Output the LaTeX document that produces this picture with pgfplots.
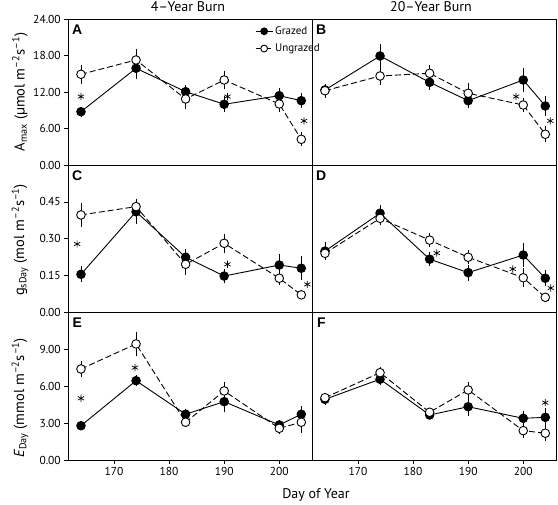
\documentclass[border=0pt]{standalone}
\usepackage{fontspec}
\setmainfont{PT Sans}
\newfontfamily\lettfont{Liberation Sans}
\usepackage{pgfplots}
\pgfplotsset{compat=1.18}
\pgfplotsset{
 panel/.style={scale only axis, width=244pt, xmin=161.7, xmax=206, ymin=0,
   tick align=outside, major tick length=4pt, xtick pos=bottom, ytick pos=left,
   axis line style={line width=0.9pt}, tick style={line width=0.8pt, black},
   tick label style={font=\fontsize{11.5}{11.5}\selectfont},
   /pgf/number format/assume math mode=true,
   yticklabel style={/pgf/number format/.cd, fixed, fixed zerofill, precision=2},
   clip=false},
 gr/.style={black, line width=0.9pt, solid, mark=*, mark size=4.3pt, mark options={solid, fill=black},
   /pgfplots/error bars/y dir=both, /pgfplots/error bars/y explicit,
   /pgfplots/error bars/error bar style={line width=0.8pt, solid},
   /pgfplots/error bars/error mark options={line width=0.8pt, mark size=2pt, solid}},
 ug/.style={black, line width=0.9pt, dash pattern=on 6pt off 3pt, mark=*, mark size=4.3pt, mark options={solid, fill=white},
   /pgfplots/error bars/y dir=both, /pgfplots/error bars/y explicit,
   /pgfplots/error bars/error bar style={line width=0.8pt, solid},
   /pgfplots/error bars/error mark options={line width=0.8pt, mark size=2pt, solid}},
 ast/.style={only marks, mark=asterisk, mark size=3.6pt, black, line width=0.7pt, forget plot},
}
\newcommand{\plet}[1]{\node[font=\lettfont\bfseries\fontsize{14}{14}\selectfont, xshift=9pt, yshift=-10.5pt] at (rel axis cs:0,1) {#1};}
\begin{document}
\begin{tikzpicture}[x=1pt,y=1pt]
\useasboundingbox (0,0) rectangle (558,505);
% A
\begin{axis}[panel, at={(68.3pt,339.7pt)}, anchor=south west, height=146pt, ymax=24,
  ytick={0,6,12,18,24}, xtick=\empty,
  legend style={draw=none, fill=none, at={(rel axis cs:0.765,0.965)}, anchor=north west,
    font=\fontsize{11}{11}\selectfont, row sep=4pt, inner sep=0pt},
  legend cell align=left, legend image post style={mark size=3.4pt}]
\addplot[gr] coordinates {(164,8.81)+-(0,0.5) (174,15.95)+-(0,1.5) (183,12.10)+-(0,0.8) (190,10.03)+-(0,1.0) (200,11.44)+-(0,0.9) (204,10.62)+-(0,0.9)};
\addlegendentry{Grazed}
\addplot[ug] coordinates {(164,14.96)+-(0,1.2) (174,17.31)+-(0,1.5) (183,10.90)+-(0,1.3) (190,14.02)+-(0,1.2) (200,10.08)+-(0,1.0) (204,4.27)+-(0,0.8)};
\addlegendentry{Ungrazed}
\addplot[ast] coordinates {(164,11.3) (190.6,11.3) (204.5,7.3)};
\plet{A}
\end{axis}
% B
\begin{axis}[panel, at={(312.3pt,339.7pt)}, anchor=south west, height=146pt, ymax=24,
  ytick=\empty, xtick=\empty]
\addplot[gr] coordinates {(164,12.38)+-(0,0.7) (174,17.97)+-(0,1.6) (183,13.64)+-(0,0.9) (190,10.62)+-(0,0.8) (200,14.02)+-(0,1.7) (204,9.75)+-(0,1.3)};
\addplot[ug] coordinates {(164,12.26)+-(0,0.8) (174,14.68)+-(0,1.2) (183,15.12)+-(0,1.0) (190,11.84)+-(0,1.3) (200,9.91)+-(0,0.8) (204,5.10)+-(0,1.0)};
\addplot[ast] coordinates {(198.7,11.3) (204.9,7.3)};
\plet{B}
\end{axis}
% C
\begin{axis}[panel, at={(68.3pt,193pt)}, anchor=south west, height=146.7pt, ymax=0.6,
  ytick={0,0.15,0.30,0.45}, xtick=\empty]
\addplot[gr] coordinates {(164,0.154)+-(0,0.025) (174,0.410)+-(0,0.04) (183,0.224)+-(0,0.025) (190,0.147)+-(0,0.02) (200,0.192)+-(0,0.035) (204,0.179)+-(0,0.04)};
\addplot[ug] coordinates {(164,0.397)+-(0,0.04) (174,0.431)+-(0,0.025) (183,0.195)+-(0,0.035) (190,0.281)+-(0,0.03) (200,0.138)+-(0,0.02) (204,0.070)+-(0,0.01)};
\addplot[ast] coordinates {(163.3,0.278) (190.6,0.195) (205.1,0.113)};
\plet{C}
\end{axis}
% D
\begin{axis}[panel, at={(312.3pt,193pt)}, anchor=south west, height=146.7pt, ymax=0.6,
  ytick=\empty, xtick=\empty]
\addplot[gr] coordinates {(164,0.249)+-(0,0.03) (174,0.404)+-(0,0.025) (183,0.216)+-(0,0.02) (190,0.161)+-(0,0.025) (200,0.233)+-(0,0.04) (204,0.138)+-(0,0.025)};
\addplot[ug] coordinates {(164,0.240)+-(0,0.02) (174,0.383)+-(0,0.02) (183,0.294)+-(0,0.02) (190,0.224)+-(0,0.02) (200,0.140)+-(0,0.03) (204,0.060)+-(0,0.01)};
\addplot[ast] coordinates {(184.3,0.241) (198.1,0.176) (205.0,0.098)};
\plet{D}
\end{axis}
% E
\begin{axis}[panel, at={(68.3pt,45pt)}, anchor=south west, height=148pt, ymax=12,
  ytick={0,3,6,9}, xtick={170,180,190,200}]
\addplot[gr] coordinates {(164,2.78)+-(0,0.2) (174,6.43)+-(0,0.3) (183,3.71)+-(0,0.3) (190,4.73)+-(0,0.7) (200,2.84)+-(0,0.2) (204,3.71)+-(0,0.5)};
\addplot[ug] coordinates {(164,7.38)+-(0,0.5) (174,9.41)+-(0,0.8) (183,3.06)+-(0,0.2) (190,5.60)+-(0,0.6) (200,2.57)+-(0,0.3) (204,3.06)+-(0,0.7)};
\addplot[ast] coordinates {(164,5.0) (173.8,7.49)};
\plet{E}
\end{axis}
% F
\begin{axis}[panel, at={(312.3pt,45pt)}, anchor=south west, height=148pt, ymax=12,
  ytick=\empty, xtick={170,180,190,200}]
\addplot[gr] coordinates {(164,4.92)+-(0,0.3) (174,6.55)+-(0,0.3) (183,3.65)+-(0,0.2) (190,4.32)+-(0,0.6) (200,3.38)+-(0,0.4) (204,3.46)+-(0,0.6)};
\addplot[ug] coordinates {(164,5.05)+-(0,0.2) (174,7.08)+-(0,0.3) (183,3.87)+-(0,0.2) (190,5.68)+-(0,0.5) (200,2.38)+-(0,0.4) (204,2.17)+-(0,0.5)};
\addplot[ast] coordinates {(204,4.65)};
\plet{F}
\end{axis}
% titles and labels
\node[font=\fontsize{14}{14}\selectfont] at (188,498) {4–Year Burn};
\node[font=\fontsize{14}{14}\selectfont] at (431,498) {20–Year Burn};
\node[font=\fontsize{14}{14}\selectfont] at (316,10) {Day of Year};
\node[font=\fontsize{14.5}{14.5}\selectfont, rotate=90] at (20,413) {A\textsubscript{max} (µmol m\textsuperscript{–2}s\textsuperscript{–1})};
\node[font=\fontsize{14.5}{14.5}\selectfont, rotate=90] at (20,265) {g\textsubscript{sDay} (mol m\textsuperscript{–2}s\textsuperscript{–1})};
\node[font=\fontsize{14.5}{14.5}\selectfont, rotate=90] at (20,107) {\textit{E}\textsubscript{Day} (mmol m\textsuperscript{–2}s\textsuperscript{–1})};
\end{tikzpicture}
\end{document}
